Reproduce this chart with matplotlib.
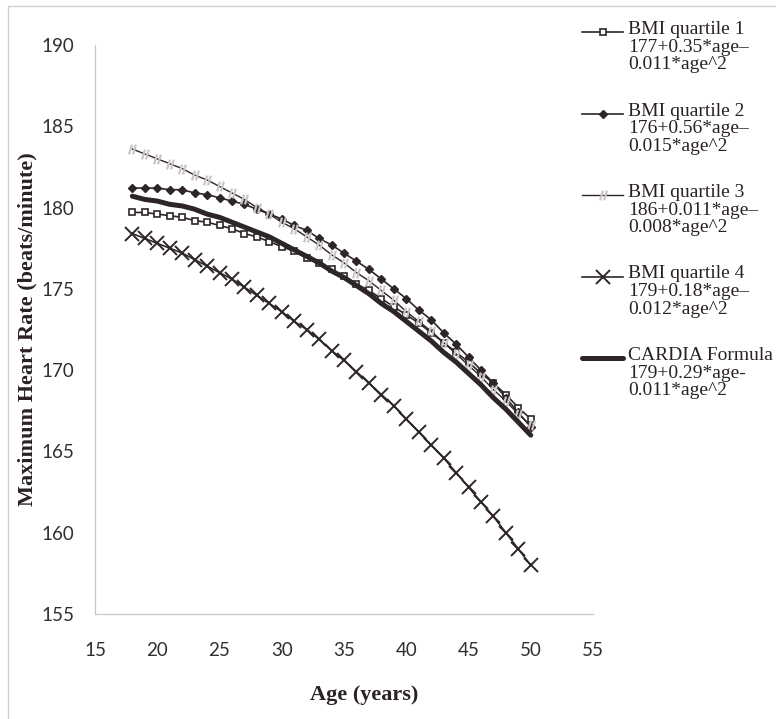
import matplotlib.pyplot as plt
from matplotlib.lines import Line2D
from matplotlib.patches import Rectangle
from matplotlib.path import Path

# ages 18..50, one point per year
age = list(range(18, 51))

q1 = [179.7, 179.7, 179.6, 179.5, 179.4, 179.2, 179.1, 178.9, 178.7, 178.4,
      178.2, 177.9, 177.6, 177.3, 176.9, 176.6, 176.2, 175.8, 175.3, 174.9,
      174.4, 173.9, 173.4, 172.9, 172.3, 171.7, 171.1, 170.5, 169.8, 169.2,
      168.5, 167.7, 167.0]
q2 = [181.2, 181.2, 181.2, 181.1, 181.1, 180.9, 180.8, 180.6, 180.4, 180.2,
      179.9, 179.6, 179.3, 178.9, 178.6, 178.1, 177.7, 177.2, 176.7, 176.2,
      175.6, 175.0, 174.4, 173.7, 173.1, 172.3, 171.6, 170.8, 170.0, 169.2,
      168.3, 167.4, 166.5]
q3 = [183.6, 183.3, 183.0, 182.7, 182.4, 182.0, 181.7, 181.3, 180.9, 180.5,
      180.0, 179.6, 179.1, 178.7, 178.2, 177.7, 177.1, 176.6, 176.0, 175.5,
      174.9, 174.3, 173.6, 173.0, 172.4, 171.7, 171.0, 170.3, 169.6, 168.8,
      168.1, 167.3, 166.6]
q4 = [178.4, 178.1, 177.8, 177.5, 177.2, 176.8, 176.4, 176.0, 175.6, 175.1,
      174.6, 174.1, 173.6, 173.0, 172.5, 171.9, 171.2, 170.6, 169.9, 169.2,
      168.5, 167.8, 167.0, 166.2, 165.4, 164.6, 163.7, 162.8, 161.9, 161.0,
      160.0, 159.0, 158.0]
cardia = [180.7, 180.5, 180.4, 180.2, 180.1, 179.9, 179.6, 179.4, 179.1, 178.8,
          178.5, 178.2, 177.8, 177.4, 177.0, 176.6, 176.1, 175.7, 175.2, 174.7,
          174.1, 173.6, 173.0, 172.4, 171.8, 171.1, 170.5, 169.8, 169.1, 168.3,
          167.6, 166.8, 166.0]

labels = ['BMI quartile 1\n177+0.35*age\u2013\n0.011*age^2',
          'BMI quartile 2\n176+0.56*age\u2013\n0.015*age^2',
          'BMI quartile 3\n186+0.011*age\u2013\n0.008*age^2',
          'BMI quartile 4\n179+0.18*age\u2013\n0.012*age^2',
          'CARDIA Formula\n179+0.29*age-\n0.011*age^2']

dark = '#2e2626'
light = '#cbc4c4'
serif = 'Liberation Serif'

# double slash marker for quartile 3
slash = Path([(-0.7, -1), (-0.1, 1), (0.1, -1), (0.7, 1)],
             [Path.MOVETO, Path.LINETO, Path.MOVETO, Path.LINETO])

W, H = 776, 719
fig = plt.figure(figsize=(W / 100, H / 100), dpi=100)
ax = fig.add_axes([95 / W, 1 - 614 / H, 498 / W, 569 / H])

styles = [
    dict(color=dark, lw=1.2, marker='s', ms=5, mfc='white', mec=dark, mew=1.2),
    dict(color=dark, lw=1.2, marker='D', ms=4.5, mfc=dark, mec=dark),
    dict(color=dark, lw=1.0, marker=slash, ms=7, mec=light, mew=1.6),
    dict(color=dark, lw=1.2, marker='x', ms=10, mec=dark, mew=1.4),
    dict(color=dark, lw=3.6, solid_capstyle='round'),
]

for ys, st in zip([q1, q2, q3, q4, cardia], styles):
    ax.plot(age, ys, **st)

ax.set_xlim(15, 55)
ax.set_ylim(155, 190)
ax.set_xticks(range(15, 56, 5))
ax.set_yticks(range(155, 191, 5))
for s in ['top', 'right']:
    ax.spines[s].set_visible(False)
for s in ['left', 'bottom']:
    ax.spines[s].set_color('#c8c8c8')
    ax.spines[s].set_linewidth(0.9)
ax.tick_params(length=0, labelsize=13.5, labelcolor='#2f2f2f')
ax.tick_params(axis='y', pad=15)
ax.tick_params(axis='x', pad=20)
for t in ax.get_xticklabels() + ax.get_yticklabels():
    t.set_fontfamily('Lato')

ax.set_xlabel('Age (years)', fontsize=16, fontweight='bold', family=serif, color='#2a2222')
ax.set_ylabel('Maximum Heart Rate (beats/minute)', fontsize=16, fontweight='bold',
              family=serif, color='#2a2222')
ax.xaxis.set_label_coords(0.54, -0.125)
ax.yaxis.set_label_coords(-0.115, 0.5)

# legend drawn at the right, handle beside first line of each entry
for i, (lab, st) in enumerate(zip(labels, styles)):
    yp = 32 + i * 81.5
    yf = 1 - yp / H
    fig.add_artist(Line2D([582 / W, 602.5 / W, 623 / W], [yf, yf, yf],
                          transform=fig.transFigure, markevery=[1], **st))
    fig.text(628 / W, 1 - (yp - 11) / H, lab, fontsize=14, family=serif,
             color='#2a2222', va='top', ha='left', linespacing=1.05)

# outer chart border (left and top visible)
fig.add_artist(Rectangle((8 / W, -0.1), 1.2, 1.1 - 6 / H, transform=fig.transFigure,
                         fill=False, edgecolor='#d0d0d0', lw=1.0))

fig.savefig('out.png', dpi=100)
